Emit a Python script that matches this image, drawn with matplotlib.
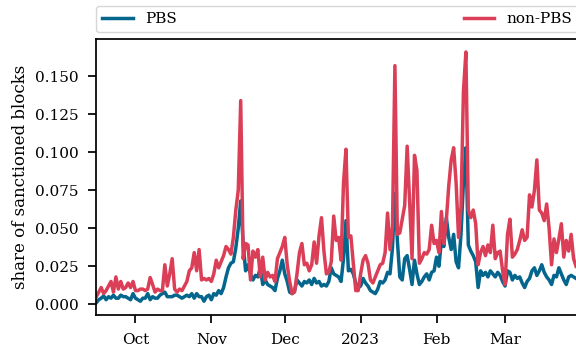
import matplotlib
matplotlib.use("Agg")
import matplotlib.pyplot as plt
import matplotlib.dates as mdates
import pandas as pd

plt.rcParams.update({
    "font.family": "DejaVu Serif",
    "font.size": 11,
    "axes.labelsize": 12,
    "xtick.labelsize": 11,
    "ytick.labelsize": 11,
    "legend.fontsize": 11,
    "axes.linewidth": 1.25,
    "xtick.major.width": 1.25,
    "ytick.major.width": 1.25,
    "xtick.major.size": 6,
    "ytick.major.size": 6,
    "xtick.major.pad": 7,
    "ytick.major.pad": 7,
})

# daily share of sanctioned blocks, 2022-09-15 .. 2023-03-30
start_date = "2022-09-15"

pbs = [
    0.001, 0.003, 0.004, 0.0055, 0.003, 0.005, 0.004, 0.006, 0.004, 0.004,
    0.006, 0.005, 0.005, 0.004, 0.003, 0.007, 0.004, 0.003, 0.002, 0.004,
    0.004, 0.007, 0.003, 0.005, 0.004, 0.004, 0.006, 0.007, 0.008, 0.005,
    0.005, 0.005, 0.006, 0.006, 0.005, 0.004, 0.005, 0.006, 0.005, 0.007,
    0.004, 0.007, 0.005, 0.005, 0.002, 0.005, 0.006, 0.003, 0.007, 0.006,
    0.009, 0.007, 0.011, 0.018, 0.024, 0.027, 0.028, 0.037, 0.050, 0.068,
    0.040, 0.022, 0.026, 0.020, 0.016, 0.019, 0.018, 0.024, 0.013, 0.016,
    0.013, 0.012, 0.011, 0.009, 0.017, 0.022, 0.029, 0.020, 0.015, 0.008,
    0.007, 0.009, 0.016, 0.014, 0.012, 0.015, 0.014, 0.016, 0.013, 0.017,
    0.014, 0.015, 0.012, 0.013, 0.012, 0.015, 0.024, 0.020, 0.019, 0.018,
    0.015, 0.030, 0.055, 0.022, 0.023, 0.020, 0.014, 0.011, 0.012, 0.017,
    0.014, 0.012, 0.009, 0.008, 0.007, 0.010, 0.015, 0.014, 0.016, 0.021,
    0.020, 0.037, 0.073, 0.042, 0.018, 0.016, 0.030, 0.032, 0.023, 0.013,
    0.029, 0.020, 0.013, 0.015, 0.018, 0.020, 0.016, 0.021, 0.022, 0.031,
    0.025, 0.042, 0.038, 0.057, 0.044, 0.036, 0.046, 0.028, 0.024, 0.046,
    0.080, 0.103, 0.039, 0.035, 0.032, 0.028, 0.011, 0.022, 0.019, 0.021,
    0.018, 0.022, 0.020, 0.018, 0.021, 0.019, 0.015, 0.012, 0.022, 0.021,
    0.016, 0.019, 0.017, 0.018, 0.014, 0.011, 0.015, 0.017, 0.022, 0.024,
    0.019, 0.022, 0.026, 0.021, 0.018, 0.016, 0.013, 0.019, 0.018, 0.024,
    0.020, 0.016, 0.013, 0.018, 0.019, 0.018, 0.017,
]

non_pbs = [
    0.005, 0.008, 0.011, 0.007, 0.009, 0.012, 0.015, 0.008, 0.018, 0.010,
    0.015, 0.010, 0.011, 0.014, 0.011, 0.015, 0.009, 0.009, 0.010, 0.010,
    0.009, 0.010, 0.0176, 0.013, 0.008, 0.010, 0.009, 0.009, 0.026, 0.012,
    0.020, 0.030, 0.010, 0.008, 0.010, 0.009, 0.012, 0.015, 0.022, 0.024,
    0.034, 0.022, 0.036, 0.016, 0.017, 0.016, 0.017, 0.015, 0.020, 0.029,
    0.024, 0.028, 0.032, 0.038, 0.036, 0.033, 0.044, 0.062, 0.075, 0.134,
    0.030, 0.040, 0.039, 0.016, 0.035, 0.031, 0.036, 0.018, 0.031, 0.016,
    0.021, 0.018, 0.019, 0.015, 0.030, 0.034, 0.038, 0.044, 0.026, 0.015,
    0.007, 0.008, 0.020, 0.034, 0.040, 0.026, 0.027, 0.022, 0.026, 0.041,
    0.027, 0.045, 0.057, 0.035, 0.020, 0.021, 0.028, 0.058, 0.042, 0.044,
    0.029, 0.080, 0.102, 0.044, 0.045, 0.027, 0.009, 0.009, 0.020, 0.029,
    0.032, 0.027, 0.016, 0.014, 0.018, 0.022, 0.026, 0.027, 0.034, 0.060,
    0.036, 0.051, 0.157, 0.046, 0.047, 0.056, 0.065, 0.104, 0.068, 0.030,
    0.098, 0.088, 0.027, 0.030, 0.034, 0.033, 0.036, 0.052, 0.040, 0.042,
    0.034, 0.061, 0.040, 0.055, 0.078, 0.095, 0.103, 0.080, 0.044, 0.064,
    0.140, 0.166, 0.062, 0.057, 0.062, 0.053, 0.026, 0.034, 0.038, 0.032,
    0.039, 0.034, 0.052, 0.030, 0.034, 0.035, 0.022, 0.013, 0.046, 0.056,
    0.031, 0.033, 0.036, 0.042, 0.049, 0.042, 0.044, 0.072, 0.064, 0.075,
    0.095, 0.062, 0.060, 0.055, 0.066, 0.050, 0.026, 0.043, 0.034, 0.043,
    0.053, 0.031, 0.042, 0.035, 0.046, 0.030, 0.025,
]

dates = pd.date_range(start_date, periods=len(pbs), freq="D")

fig = plt.figure(figsize=(5.76, 3.49), dpi=100)
ax = fig.add_axes([0.1672, 0.0966, 1.0043 - 0.1672, 0.887 - 0.0966])

ax.plot(dates, pbs, color="#04668c", lw=2.5, label="PBS")
ax.plot(dates, non_pbs, color="#db3f58", lw=2.5, label="non-PBS")

ax.set_xlim(dates[0], dates[-1] + pd.Timedelta(days=1))
ax.set_ylabel("share of sanctioned blocks")
ax.set_yticks([0.0, 0.025, 0.05, 0.075, 0.1, 0.125, 0.15])
ax.yaxis.set_major_formatter(matplotlib.ticker.FormatStrFormatter("%.3f"))

locator = mdates.MonthLocator()
ax.xaxis.set_major_locator(locator)
ax.xaxis.set_major_formatter(mdates.ConciseDateFormatter(locator))

ax.legend(bbox_to_anchor=(0, 1.026, 1, 0.1), loc="lower left", mode="expand",
          ncol=2, borderaxespad=0)

fig.savefig("out.png", dpi=100)
